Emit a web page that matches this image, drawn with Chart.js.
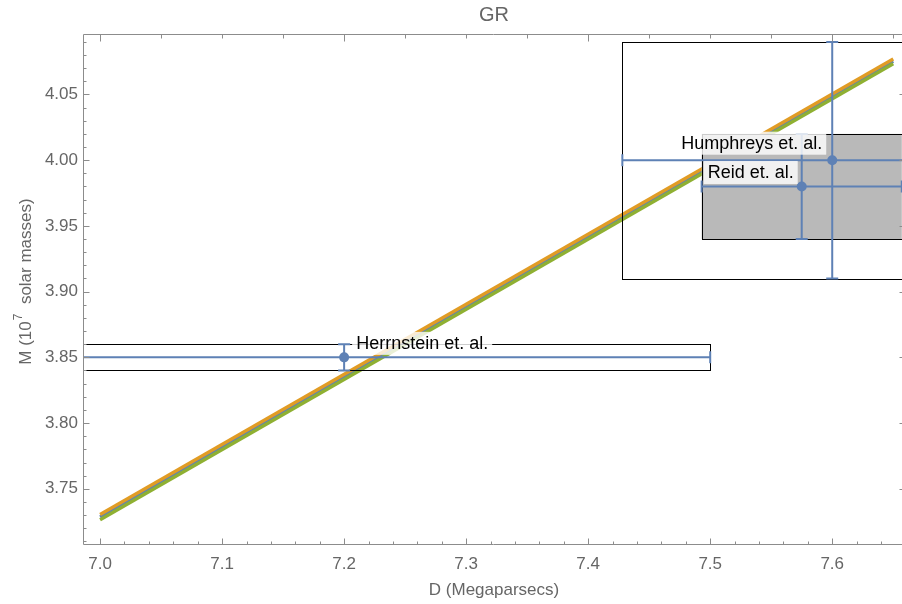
<!DOCTYPE html>
<html><head><meta charset="utf-8">
<script src="https://cdn.jsdelivr.net/npm/chart.js@4/dist/chart.umd.min.js"></script>
<style>html,body{margin:0;padding:0;background:#fff;overflow:hidden;width:902px;height:604px}canvas{display:block}</style>
</head><body>
<canvas id="c" width="908" height="604"></canvas>
<script>
// ---- data ----
const titleText = "GR";
const xAxisTitle = "D (Megaparsecs)";
const yAxisTitleParts = ["M (10", "7", "  solar masses)"];
const xTickValues = [7.0, 7.1, 7.2, 7.3, 7.4, 7.5, 7.6];
const yTickValues = [3.75, 3.80, 3.85, 3.90, 3.95, 4.00, 4.05];
const lineD = [7.0, 7.65];
const lineMBlue = [3.7285, 4.0752];
const lineMOrange = [3.7305, 4.0770];
const lineMGreen = [3.7265, 4.0733];
const obsNames = ["Herrnstein et. al.", "Humphreys et. al.", "Reid et. al."];
const obsD = [7.2, 7.6, 7.575];
const obsM = [3.85, 4.00, 3.98];
const obsDErr = [0.3, 0.172, 0.082];
const obsMErr = [0.01, 0.09, 0.04];
const obsBoxFilled = [false, false, true];

// ---- style ----
const X_MIN = 6.986, X_MAX = 7.658, Y_MIN = 3.708, Y_MAX = 4.096;
const BLUE = '#5E81B5', ORANGE = '#E19C24', GREEN = '#8FB032';
const BOX_FILL = '#b9b9b9';
const FRAME = '#8c8c8c';
const TEXT_GRAY = '#666666';
const FONT = "'Liberation Sans', Arial, sans-serif";
const labelStyle = [
  {align: 'left', dx: 12, dy: -14},
  {align: 'right', dx: -10, dy: -17},
  {align: 'right', dx: -8, dy: -14}
];

function pts(xs, ys) { return xs.map((v, i) => ({x: v, y: ys[i]})); }

const framePlugin = {
  id: 'frameDecor',
  beforeDatasetDraw(chart, args) {
    if (args.index !== 0) return;
    const {ctx, chartArea: a, scales: {x, y}} = chart;
    ctx.save();
    ctx.beginPath();
    ctx.rect(a.left, a.top, a.right - a.left, a.bottom - a.top);
    ctx.clip();
    obsD.forEach((d, i) => {
      const x0 = x.getPixelForValue(d - obsDErr[i]), x1 = x.getPixelForValue(d + obsDErr[i]);
      const y0 = y.getPixelForValue(obsM[i] + obsMErr[i]), y1 = y.getPixelForValue(obsM[i] - obsMErr[i]);
      if (obsBoxFilled[i]) { ctx.fillStyle = BOX_FILL; ctx.fillRect(x0, y0, x1 - x0, y1 - y0); }
      ctx.strokeStyle = '#000'; ctx.lineWidth = 1;
      ctx.strokeRect(Math.round(x0) + 0.5, Math.round(y0) + 0.5, Math.round(x1 - x0), Math.round(y1 - y0));
    });
    ctx.strokeStyle = BLUE; ctx.lineWidth = 2;
    const cap = 6;
    obsD.forEach((d, i) => {
      const px = x.getPixelForValue(d), py = y.getPixelForValue(obsM[i]);
      const x0 = x.getPixelForValue(d - obsDErr[i]), x1 = x.getPixelForValue(d + obsDErr[i]);
      const y0 = y.getPixelForValue(obsM[i] + obsMErr[i]), y1 = y.getPixelForValue(obsM[i] - obsMErr[i]);
      ctx.beginPath();
      ctx.moveTo(x0, py); ctx.lineTo(x1, py);
      ctx.moveTo(px, y0); ctx.lineTo(px, y1);
      ctx.moveTo(x0, py - cap); ctx.lineTo(x0, py + cap);
      ctx.moveTo(x1, py - cap); ctx.lineTo(x1, py + cap);
      ctx.moveTo(px - cap, y0); ctx.lineTo(px + cap, y0);
      ctx.moveTo(px - cap, y1); ctx.lineTo(px + cap, y1);
      ctx.stroke();
    });
    ctx.restore();
  },
  afterDatasetsDraw(chart) {
    const {ctx, chartArea: a, scales: {x, y}} = chart;
    ctx.save();
    ctx.font = '18px ' + FONT;
    ctx.textBaseline = 'middle';
    obsNames.forEach((name, i) => {
      const st = labelStyle[i];
      const px = x.getPixelForValue(obsD[i]) + st.dx, py = y.getPixelForValue(obsM[i]) + st.dy;
      const w = ctx.measureText(name).width;
      const left = st.align === 'left' ? px : px - w;
      ctx.fillStyle = 'rgba(255,255,255,0.8)';
      ctx.fillRect(left - 4, py - 11.5, w + 8, 23);
      ctx.fillStyle = '#000';
      ctx.textAlign = 'left';
      ctx.fillText(name, left, py + 1);
    });
    ctx.restore();
    ctx.save();
    ctx.strokeStyle = FRAME; ctx.lineWidth = 1;
    const L = Math.round(a.left) + 0.5, R = Math.round(a.right) + 0.5, T = Math.round(a.top) + 0.5, B = Math.round(a.bottom) + 0.5;
    ctx.beginPath();
    ctx.moveTo(L, T); ctx.lineTo(R, T); ctx.lineTo(R, B); ctx.lineTo(L, B); ctx.closePath();
    ctx.stroke();
    ctx.beginPath();
    for (let k = 0; k <= 40; k++) {
      const v = 6.9 + k * 0.02;
      if (v < X_MIN - 1e-9 || v > X_MAX + 1e-9) continue;
      const major = Math.abs(Math.round(v * 10) - v * 10) < 1e-6;
      const px = Math.round(x.getPixelForValue(v)) + 0.5;
      ctx.moveTo(px, B); ctx.lineTo(px, B - (major ? 6 : 3));
    }
    for (let k = 0; k <= 20; k++) {
      const v = 6.9 + k * 0.05;
      if (v < X_MIN - 1e-9 || v > X_MAX + 1e-9) continue;
      const major = Math.abs(Math.round(v * 5) - v * 5) < 1e-6;
      const px = Math.round(x.getPixelForValue(v)) + 0.5;
      ctx.moveTo(px, T); ctx.lineTo(px, T + (major ? 7 : 4));
    }
    for (let k = 0; k <= 50; k++) {
      const v = 3.70 + k * 0.01;
      if (v < Y_MIN - 1e-9 || v > Y_MAX + 1e-9) continue;
      const major = Math.abs(Math.round(v * 20) - v * 20) < 1e-6;
      const py = Math.round(y.getPixelForValue(v)) + 0.5;
      ctx.moveTo(L, py); ctx.lineTo(L + (major ? 6 : 3), py);
    }
    for (let k = 0; k <= 10; k++) {
      const v = 3.70 + k * 0.05;
      if (v < Y_MIN - 1e-9 || v > Y_MAX + 1e-9) continue;
      const py = Math.round(y.getPixelForValue(v)) + 0.5;
      ctx.moveTo(R, py); ctx.lineTo(R - 4, py);
    }
    ctx.stroke();
    ctx.restore();
    ctx.save();
    ctx.fillStyle = TEXT_GRAY;
    ctx.textBaseline = 'middle';
    ctx.textAlign = 'center';
    ctx.font = '20px ' + FONT;
    ctx.fillText(titleText, 494, 15);
    ctx.font = '17px ' + FONT;
    ctx.fillText(xAxisTitle, 494, 590);
    ctx.translate(26, 282);
    ctx.rotate(-Math.PI / 2);
    ctx.textAlign = 'left';
    const fMain = '17px ' + FONT, fSup = '12px ' + FONT;
    ctx.font = fMain; const w0 = ctx.measureText(yAxisTitleParts[0]).width;
    ctx.font = fSup; const w1 = ctx.measureText(yAxisTitleParts[1]).width;
    ctx.font = fMain; const w2 = ctx.measureText(yAxisTitleParts[2]).width;
    let sx = -(w0 + w1 + w2) / 2;
    ctx.font = fMain; ctx.fillText(yAxisTitleParts[0], sx, 0); sx += w0;
    ctx.font = fSup; ctx.fillText(yAxisTitleParts[1], sx + 1, -7); sx += w1 + 1;
    ctx.font = fMain; ctx.fillText(yAxisTitleParts[2], sx, 0);
    ctx.restore();
  }
};

const lineDefaults = {type: 'line', pointRadius: 0, fill: false, showLine: true, borderWidth: 3.4, borderCapStyle: 'butt'};

new Chart(document.getElementById('c').getContext('2d'), {
  type: 'scatter',
  data: {
    datasets: [
      {label: 'Observations', data: pts(obsD, obsM), pointRadius: 5, pointHoverRadius: 5,
       pointBackgroundColor: BLUE, pointBorderWidth: 0, order: 0},
      Object.assign({label: 'green', data: pts(lineD, lineMGreen), borderColor: GREEN, order: 1}, lineDefaults),
      Object.assign({label: 'orange', data: pts(lineD, lineMOrange), borderColor: ORANGE, order: 2}, lineDefaults),
      Object.assign({label: 'blue', data: pts(lineD, lineMBlue), borderColor: BLUE, order: 3}, lineDefaults)
    ]
  },
  options: {
    responsive: false,
    animation: false,
    events: [],
    layout: {padding: {top: 34, left: 0, right: 0, bottom: 0}},
    plugins: {legend: {display: false}, tooltip: {enabled: false}, title: {display: false}},
    scales: {
      x: {
        type: 'linear', min: X_MIN, max: X_MAX,
        grid: {display: false, drawTicks: false}, border: {display: false},
        afterBuildTicks: s => { s.ticks = xTickValues.map(v => ({value: v})); },
        afterFit: s => { s.height = 60; },
        ticks: {callback: v => Number(v).toFixed(1), color: TEXT_GRAY, font: {family: FONT, size: 17},
                padding: 10, maxRotation: 0, autoSkip: false}
      },
      y: {
        type: 'linear', min: Y_MIN, max: Y_MAX,
        grid: {display: false, drawTicks: false}, border: {display: false},
        afterBuildTicks: s => { s.ticks = yTickValues.map(v => ({value: v})); },
        afterFit: s => { s.width = 83; },
        ticks: {callback: v => Number(v).toFixed(2), color: TEXT_GRAY, font: {family: FONT, size: 17},
                padding: 5, autoSkip: false}
      }
    }
  },
  plugins: [framePlugin]
});
</script>
</body></html>
